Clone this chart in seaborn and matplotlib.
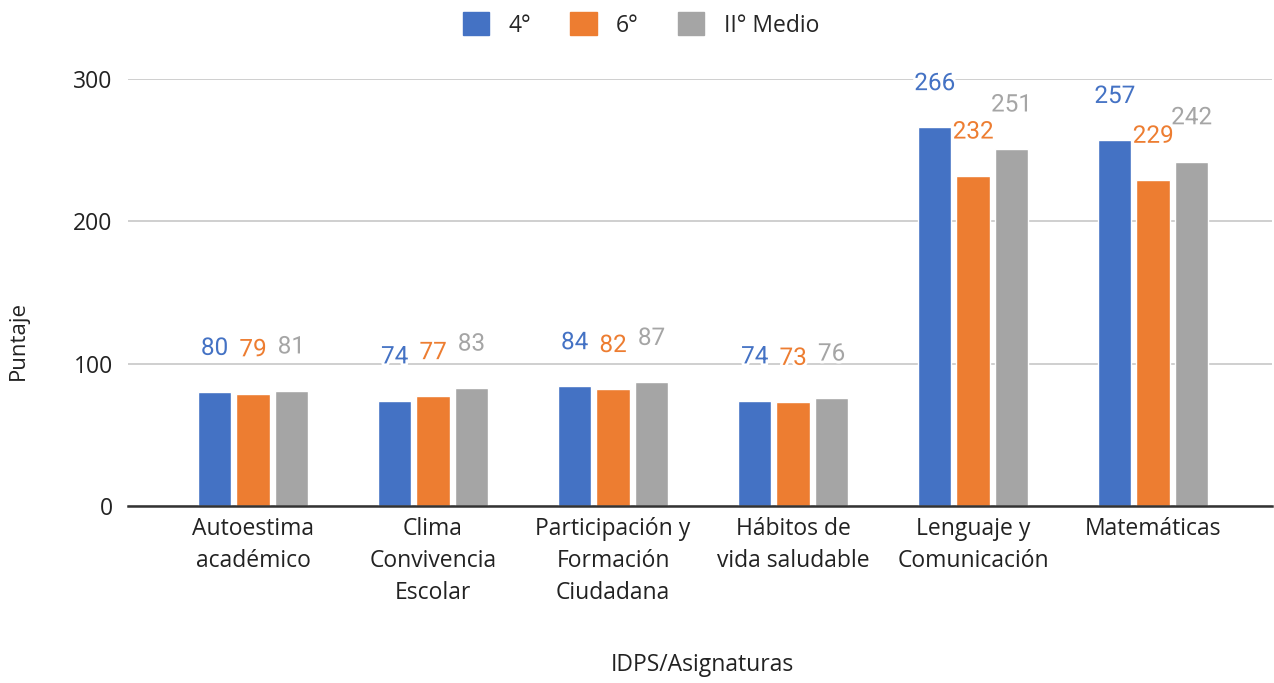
import matplotlib
matplotlib.use("Agg")
import matplotlib.pyplot as plt
import matplotlib.patheffects as pe
import seaborn as sns
import pandas as pd

categories = ["Autoestima\nacadémico", "Clima\nConvivencia\nEscolar",
              "Participación y\nFormación\nCiudadana", "Hábitos de\nvida saludable",
              "Lenguaje y\nComunicación", "Matemáticas"]
series_names = ["4°", "6°", "II° Medio"]
vals_4 = [80, 74, 84, 74, 266, 257]
vals_6 = [79, 77, 82, 73, 232, 229]
vals_II = [81, 83, 87, 76, 251, 242]
colors = ["#4472C4", "#ED7D31", "#A5A5A5"]
yticks = [0, 100, 200, 300]

rows = []
for name, vals in zip(series_names, [vals_4, vals_6, vals_II]):
    for c, v in zip(categories, vals):
        rows.append({"cat": c, "serie": name, "val": v})
df = pd.DataFrame(rows)

sns.set_theme(style="white")
plt.rcParams['font.family'] = ['Open Sans', 'DejaVu Sans']

fig = plt.figure(figsize=(12.74, 6.83), dpi=100)
ax = fig.add_axes([128/1274, 1-506/683, (1272-128)/1274, (506-79)/683])

sns.barplot(data=df, x="cat", y="val", hue="serie", palette=colors,
            width=0.64, gap=0.13, ax=ax, legend=False, saturation=1)

ax.set_xlabel("")
ax.set_ylabel("")
ax.set_ylim(0, 300)
ax.set_xlim(-0.694, 5.66)
ax.set_yticks(yticks)
ax.yaxis.grid(True, color="#CCCCCC", linewidth=1.3)
ax.set_axisbelow(True)
for s in ["top", "right", "left"]:
    ax.spines[s].set_visible(False)
ax.spines["bottom"].set_color("#333333")
ax.spines["bottom"].set_linewidth(1.8)
ax.spines["bottom"].set_zorder(5)
ax.tick_params(axis="y", length=0, labelsize=16.5, colors="#222222", pad=11)
ax.tick_params(axis="x", length=0, labelsize=16.5, colors="#222222", pad=8)
for t in ax.get_xticklabels():
    t.set_linespacing(1.45)
    t.set_verticalalignment("top")

fig.text(18/1274, 1-341/683, "Puntaje", rotation=90, fontsize=16, color="#222222",
         ha="center", va="center")
fig.text(702/1274, 1-665/683, "IDPS/Asignaturas", fontsize=16.5, color="#222222",
         ha="center", va="center")

# data labels
for cont, col in zip(ax.containers, colors):
    for bar in cont:
        h = bar.get_height()
        ax.annotate(f"{h:.0f}", (bar.get_x() + bar.get_width()/2, h),
                    xytext=(0, 31.5), textcoords="offset points",
                    ha="center", va="center", fontsize=17.5, color=col,
                    family=["Roboto", "DejaVu Sans"], annotation_clip=False,
                    path_effects=[pe.withStroke(linewidth=4, foreground="white")],
                    zorder=6)

# legend
from matplotlib.patches import Patch
handles = [Patch(facecolor=c, edgecolor=c, label=n) for c, n in zip(colors, series_names)]
fig.legend(handles=handles, loc="upper center", bbox_to_anchor=(0.503, 1.012), ncol=3,
           frameon=False, fontsize=16.5, handlelength=1.15, handleheight=1.15,
           columnspacing=1.7, handletextpad=0.85)

fig.savefig("out.png", dpi=100)
